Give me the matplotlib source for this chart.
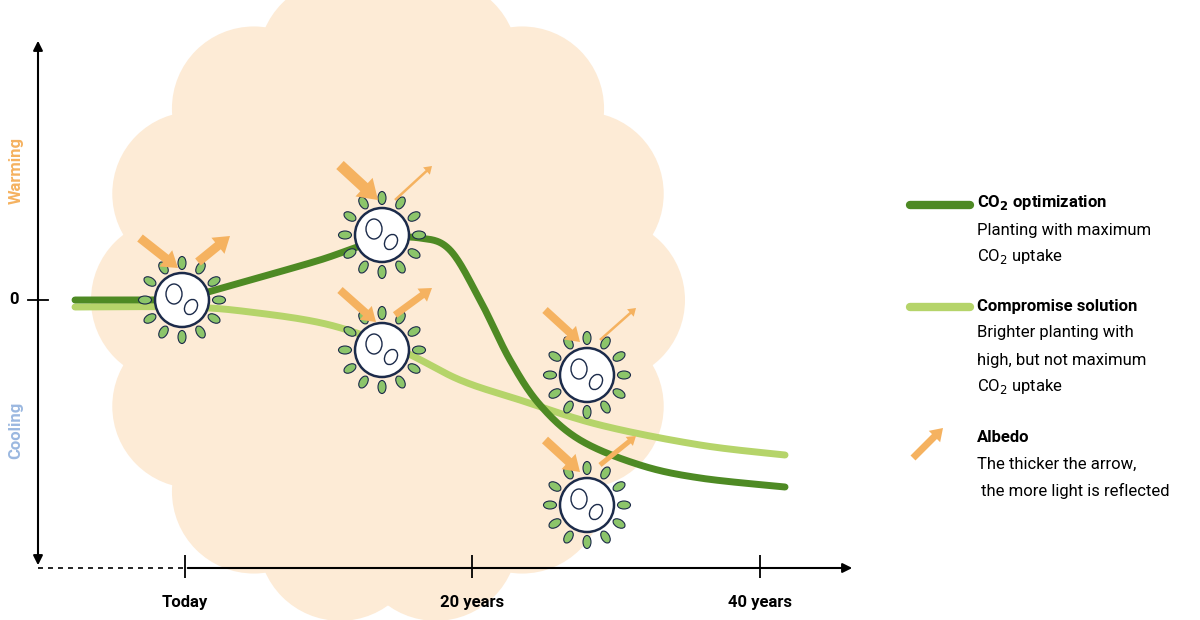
import numpy as np
import matplotlib
matplotlib.use("Agg")
import matplotlib.pyplot as plt
from matplotlib.patches import Circle, Ellipse, FancyArrow

plt.rcParams['font.family'] = ['Roboto', 'DejaVu Sans']

# ---- data ----
co2_years = [-7.65, -1.74, 0, 4.52, 9.39, 13.57, 16.35, 18.43, 20.52, 22.61, 24.7, 27.48, 31.65, 35.83, 41.74]
co2_vals = [0, 0, 0.02, 0.2, 0.4, 0.6, 0.62, 0.5, 0, -0.6, -1.05, -1.4, -1.65, -1.78, -1.87]
comp_years = [-7.65, 0, 4.52, 10.09, 14.96, 19.13, 23.3, 28.87, 35.83, 41.74]
comp_vals = [-0.07, -0.07, -0.12, -0.25, -0.5, -0.8, -1.0, -1.25, -1.45, -1.55]
tick_years = [0, 20, 40]
tick_labels = ["Today", "20 years", "40 years"]

DARK = "#4e8a24"; LIGHT = "#b5d46a"; ORANGE = "#f5b260"; NAVY = "#1c2b4a"
PEACH = "#fdebd6"

def catmull(xs, ys, n=30):
    P = np.column_stack([xs, ys]).astype(float)
    P = np.vstack([P[0], P, P[-1]])
    out = []
    for i in range(1, len(P) - 2):
        p0, p1, p2, p3 = P[i-1], P[i], P[i+1], P[i+2]
        t = np.linspace(0, 1, n)[:, None]
        out.append(0.5*((2*p1) + (-p0+p2)*t + (2*p0-5*p1+4*p2-p3)*t**2 + (-p0+3*p1-3*p2+p3)*t**3))
    out = np.vstack(out)
    return out[:, 0], out[:, 1]

fig = plt.figure(figsize=(12, 6.2), dpi=100)
fig.patch.set_facecolor("white")

bg = fig.add_axes([0, 0, 1, 1], zorder=0)
bg.set_xlim(0, 1200); bg.set_ylim(620, 0); bg.axis("off")
cx, cy = 388, 300
bg.add_patch(Ellipse((cx, cy), 2*250, 2*280, color=PEACH, lw=0))
for a in np.linspace(0, 2*np.pi, 15)[:-1]:
    bg.add_patch(Circle((cx + 215*np.cos(a), cy + 245*np.sin(a)), 82, color=PEACH, lw=0))

ax = fig.add_axes([0, 0, 1, 1], zorder=1)
ax.patch.set_alpha(0)
ax.set_xlim((0-185)/14.375, (1200-185)/14.375)
ax.set_ylim((300-620)/100, (300-0)/100)
ax.axis("off")
x, y = catmull(comp_years, comp_vals)
ax.plot(x, y, color=LIGHT, lw=5, solid_capstyle="round")
x, y = catmull(co2_years, co2_vals)
ax.plot(x, y, color=DARK, lw=5, solid_capstyle="round")
for t, lab in zip(tick_years, tick_labels):
    ax.vlines(t, -2.55, -2.78, color="black", lw=1.3)
    ax.text(t, -3.02, lab, ha="center", va="center", fontsize=12, fontweight="bold")

d = fig.add_axes([0, 0, 1, 1], zorder=2)
d.patch.set_alpha(0)
d.set_xlim(0, 1200); d.set_ylim(620, 0); d.axis("off")

d.annotate("", xy=(38, 38), xytext=(38, 568), arrowprops=dict(arrowstyle="<|-|>", color="black", lw=1.5, mutation_scale=14))
d.plot([38, 185], [568, 568], color="black", lw=1.2, ls=(0, (3, 3)))
d.annotate("", xy=(855, 568), xytext=(185, 568), arrowprops=dict(arrowstyle="-|>", color="black", lw=1.5, mutation_scale=14))
d.plot([28, 48], [300, 300], color="black", lw=1.3)
d.text(14, 300, "0", ha="center", va="center", fontsize=12, fontweight="bold")
d.text(16, 170, "Warming", rotation=90, ha="center", va="center", fontsize=12, fontweight="bold", color=ORANGE)
d.text(16, 430, "Cooling", rotation=90, ha="center", va="center", fontsize=12, fontweight="bold", color="#9bb8e0")

def arrow(x0, y0, x1, y1, w):
    hw = max(w*2.3, 10)
    d.add_patch(FancyArrow(x0, y0, x1-x0, y1-y0, width=w, head_width=hw, head_length=hw*0.75,
                           length_includes_head=True, color=ORANGE, lw=0, zorder=4))

def globe(x0, y0, r=27):
    for a in np.linspace(0, 2*np.pi, 13)[:-1]:
        lx, ly = x0 + (r+10)*np.cos(a), y0 + (r+10)*np.sin(a)
        d.add_patch(Ellipse((lx, ly), 8, 13, angle=np.degrees(a)+90, facecolor="#8cc56a",
                            edgecolor=NAVY, lw=0.8, zorder=3))
    d.add_patch(Circle((x0, y0), r, facecolor="white", edgecolor=NAVY, lw=1.8, zorder=4))
    d.add_patch(Ellipse((x0-8, y0-6), 16, 20, facecolor="white", edgecolor=NAVY, lw=1, zorder=5))
    d.add_patch(Ellipse((x0+9, y0+7), 12, 16, angle=30, facecolor="white", edgecolor=NAVY, lw=1, zorder=5))

globes = [(182, 300), (382, 235), (382, 350), (587, 375), (587, 505)]
for g in globes:
    globe(*g)
arrows = [(140, 238, 178, 268, 9), (198, 262, 230, 236, 9),
          (340, 165, 378, 200, 11), (395, 200, 432, 166, 2.5),
          (340, 290, 376, 322, 8), (395, 315, 432, 288, 7),
          (545, 310, 580, 342, 8), (600, 340, 636, 308, 2.5),
          (545, 440, 580, 472, 9), (600, 465, 636, 436, 5)]
for a in arrows:
    arrow(*a)

d.plot([910, 970], [205, 205], color=DARK, lw=6, solid_capstyle="round")
d.plot([910, 970], [307, 307], color=LIGHT, lw=6, solid_capstyle="round")
arrow(913, 458, 943, 428, 7)
fs = 12
d.text(977, 203, r"CO$_\mathbf{2}$ optimization", fontsize=fs, fontweight="bold", va="center")
d.text(977, 230, "Planting with maximum", fontsize=fs, va="center")
d.text(977, 257, r"CO$_2$ uptake", fontsize=fs, va="center")
d.text(977, 306, "Compromise solution", fontsize=fs, fontweight="bold", va="center")
d.text(977, 333, "Brighter planting with", fontsize=fs, va="center")
d.text(977, 360, "high, but not maximum", fontsize=fs, va="center")
d.text(977, 387, r"CO$_2$ uptake", fontsize=fs, va="center")
d.text(977, 437, "Albedo", fontsize=fs, fontweight="bold", va="center")
d.text(977, 464, "The thicker the arrow,", fontsize=fs, va="center")
d.text(977, 491, " the more light is reflected", fontsize=fs, va="center")

fig.savefig("out.png", dpi=100)
